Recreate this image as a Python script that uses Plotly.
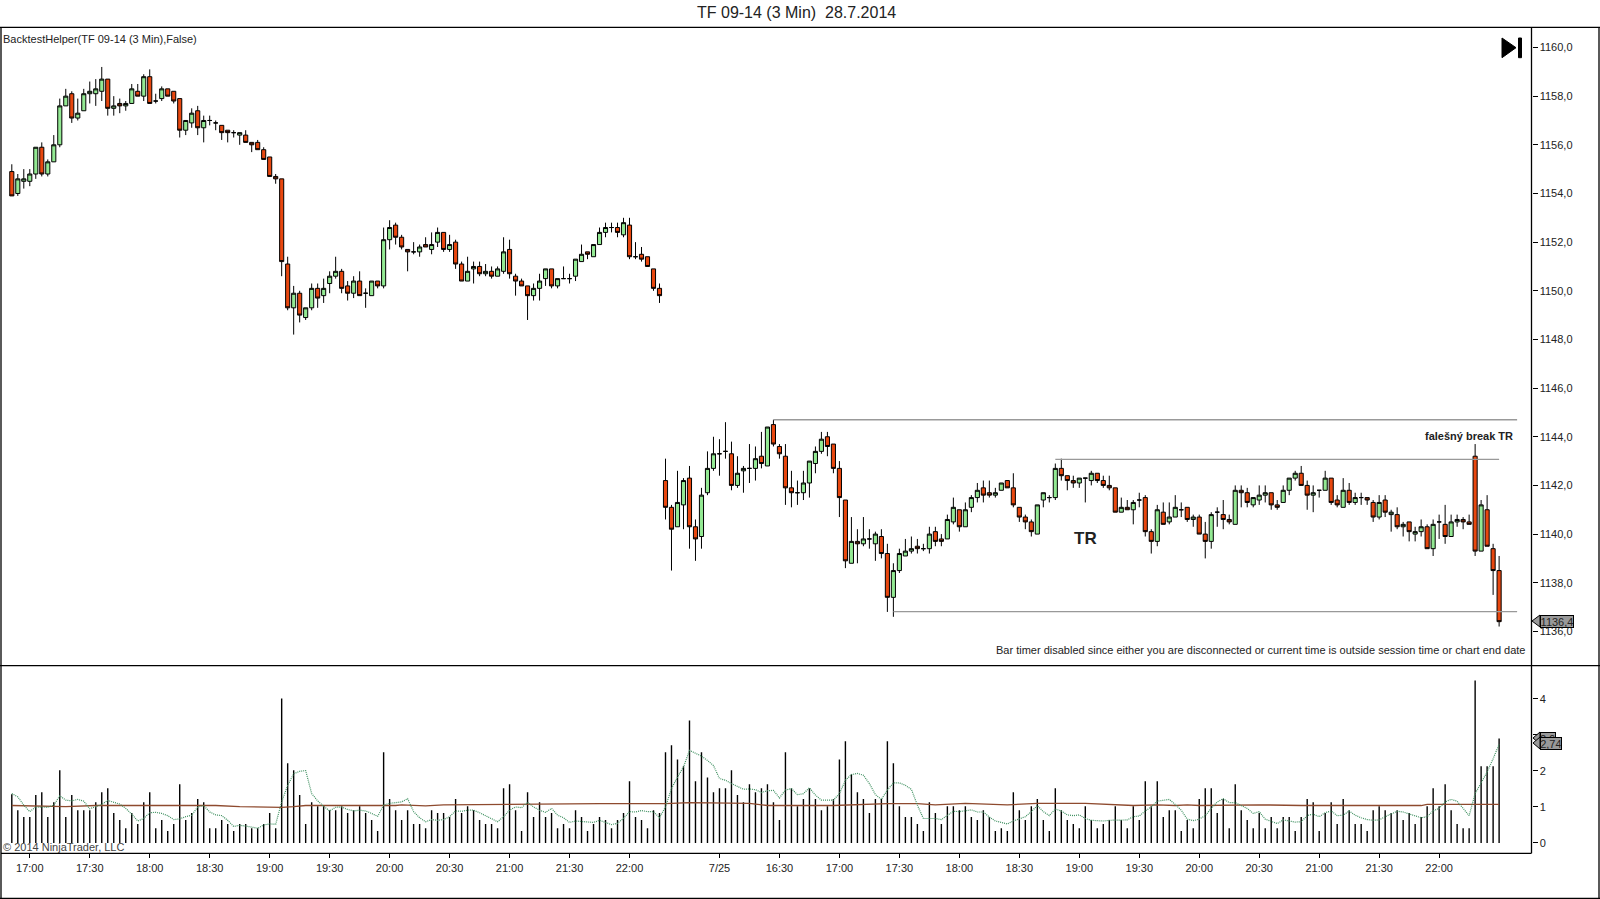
import plotly.graph_objects as go

W = 1600
H = 899

# candle values (3 min bars, two sessions side by side)
opens = [
    1154.9, 1154.0, 1154.5, 1154.5, 1154.8, 1155.9, 1154.8, 1155.3, 1156.0, 1157.6,
    1158.1, 1157.1, 1157.4, 1158.1, 1158.1, 1158.2, 1158.7, 1157.5, 1157.7, 1157.6,
    1157.7, 1158.2, 1158.0, 1158.8, 1157.8, 1157.9, 1158.3, 1158.2, 1157.9, 1156.6,
    1156.9, 1157.4, 1156.7, 1157.0, 1156.9, 1156.8, 1156.6, 1156.5, 1156.4, 1156.4,
    1156.1, 1156.1, 1155.8, 1155.5, 1154.7, 1154.6, 1151.1, 1149.3, 1149.9, 1148.9,
    1149.3, 1150.1, 1149.8, 1150.3, 1150.6,
    1150.8, 1150.2, 1149.9, 1150.4, 1149.9, 1149.8, 1150.4, 1150.2, 1152.1, 1152.7,
    1152.2, 1151.7, 1151.6, 1151.6, 1151.9, 1151.7, 1152.0, 1152.4, 1151.7, 1152.0,
    1151.1, 1150.4, 1150.9, 1151.0, 1150.7, 1150.8, 1150.6, 1150.8, 1151.7, 1150.6,
    1150.4, 1150.2, 1149.8, 1150.1, 1150.5, 1150.9, 1150.2, 1150.5, 1150.5, 1150.6,
    1151.2, 1151.6, 1151.4, 1151.9, 1152.4, 1152.6, 1152.6, 1152.3, 1152.7, 1151.4,
    1151.5, 1151.4, 1150.9, 1150.1,
    1142.2, 1141.1, 1140.3, 1141.2, 1142.3, 1140.3, 1139.9, 1141.7, 1142.7, 1143.3,
    1143.4, 1143.3, 1142.0, 1142.6, 1142.7, 1142.7, 1143.2, 1142.8, 1144.5, 1143.6,
    1143.2, 1141.9, 1141.7, 1141.7, 1142.1, 1142.9, 1143.4, 1144.0, 1143.7, 1142.7,
    1141.4, 1138.8, 1139.7, 1139.6, 1139.8, 1139.6, 1139.9, 1139.2, 1137.4, 1138.5,
    1139.1, 1139.3, 1139.5, 1139.4, 1139.4, 1140.1, 1139.8, 1139.8,
    1140.5, 1141.0, 1140.3, 1141.1, 1141.5, 1141.9, 1141.7, 1141.6, 1141.8, 1142.2,
    1141.9, 1141.1, 1140.7, 1140.5, 1140.0, 1141.4, 1141.5, 1141.5, 1142.7, 1142.4,
    1142.2, 1142.1, 1142.3, 1142.2, 1142.5, 1142.2, 1142.0, 1141.9, 1140.9, 1141.1,
    1141.0, 1141.4, 1141.5, 1140.1, 1139.7, 1140.9, 1140.5, 1140.7, 1141.0, 1141.1,
    1140.6, 1140.7, 1140.0, 1139.7, 1140.9, 1140.8, 1140.6,
    1140.4, 1141.8, 1141.7, 1141.2, 1141.4, 1141.6, 1141.7, 1141.2, 1141.3, 1141.8,
    1142.3, 1142.5, 1142.0, 1141.6, 1141.8, 1141.8, 1142.3, 1141.4, 1141.1, 1141.8,
    1141.3, 1141.5, 1141.5, 1141.3, 1140.7, 1141.4, 1140.8, 1140.8, 1140.3, 1140.5,
    1140.0, 1140.1, 1140.3, 1139.4, 1140.5, 1140.4, 1139.9, 1140.5, 1140.6, 1140.5,
    1143.2, 1139.3, 1141.0, 1139.4, 1138.5,
]
highs = [
    1155.2, 1154.8, 1155.0, 1155.0, 1155.9, 1156.1, 1155.4, 1156.4, 1157.9, 1158.3,
    1158.2, 1157.9, 1158.3, 1158.6, 1158.7, 1159.2, 1158.7, 1158.0, 1157.9, 1157.8,
    1158.5, 1158.5, 1158.9, 1159.1, 1158.1, 1158.4, 1158.3, 1158.2, 1157.9, 1157.0,
    1157.5, 1157.6, 1157.2, 1157.2, 1157.0, 1156.8, 1156.6, 1156.6, 1156.5, 1156.6,
    1156.1, 1156.2, 1155.9, 1155.5, 1154.8, 1154.6, 1151.4, 1150.2, 1150.0, 1149.3,
    1150.3, 1150.3, 1150.5, 1150.8, 1151.4,
    1150.9, 1150.4, 1150.6, 1150.8, 1150.1, 1150.4, 1150.4, 1152.6, 1152.9, 1152.8,
    1152.3, 1151.7, 1152.0, 1151.9, 1152.2, 1152.4, 1152.6, 1152.4, 1152.3, 1152.1,
    1151.2, 1151.4, 1151.2, 1151.2, 1151.1, 1151.0, 1151.0, 1152.2, 1152.1, 1150.7,
    1150.5, 1150.2, 1150.3, 1150.7, 1150.9, 1150.9, 1150.5, 1151.0, 1150.7, 1151.3,
    1151.9, 1151.6, 1151.9, 1152.6, 1152.8, 1152.8, 1152.8, 1153.0, 1153.0, 1152.0,
    1151.8, 1151.4, 1150.9, 1150.3,
    1143.1, 1141.2, 1142.6, 1142.3, 1142.8, 1140.6, 1141.9, 1143.4, 1144.0, 1143.9,
    1144.6, 1143.8, 1143.2, 1142.8, 1143.7, 1143.6, 1144.2, 1144.4, 1144.7, 1143.7,
    1143.7, 1142.6, 1142.2, 1142.6, 1143.0, 1143.6, 1144.2, 1144.2, 1143.7, 1143.0,
    1141.4, 1140.7, 1140.2, 1140.7, 1140.2, 1140.1, 1140.2, 1139.6, 1138.8, 1139.4,
    1139.8, 1139.9, 1139.8, 1139.6, 1140.3, 1140.3, 1140.0, 1140.8,
    1141.5, 1141.0, 1141.3, 1141.6, 1142.1, 1142.2, 1142.2, 1141.9, 1142.1, 1142.2,
    1142.5, 1141.1, 1140.8, 1140.6, 1141.2, 1141.7, 1141.6, 1142.9, 1143.1, 1142.4,
    1142.4, 1142.3, 1142.3, 1142.6, 1142.5, 1142.4, 1142.4, 1141.9, 1141.5, 1141.4,
    1141.4, 1141.7, 1141.6, 1140.2, 1141.2, 1141.3, 1141.3, 1141.6, 1141.3, 1141.1,
    1140.8, 1140.8, 1140.5, 1140.9, 1141.1, 1141.4, 1140.8,
    1142.0, 1142.0, 1141.9, 1141.5, 1142.0, 1142.0, 1141.7, 1141.4, 1142.0, 1142.3,
    1142.6, 1142.8, 1142.2, 1142.0, 1141.8, 1142.6, 1142.3, 1141.6, 1142.3, 1142.1,
    1141.7, 1141.7, 1141.5, 1141.4, 1141.6, 1141.6, 1141.0, 1141.1, 1140.5, 1140.5,
    1140.3, 1140.6, 1140.4, 1140.6, 1140.8, 1141.2, 1140.8, 1140.8, 1140.7, 1140.8,
    1143.7, 1141.4, 1141.6, 1139.6, 1139.1,
]
lows = [
    1153.9, 1153.9, 1154.2, 1154.3, 1154.6, 1154.7, 1154.7, 1155.3, 1155.9, 1157.6,
    1156.9, 1157.0, 1157.4, 1157.7, 1157.6, 1157.8, 1157.2, 1157.2, 1157.3, 1157.4,
    1157.7, 1158.0, 1157.8, 1157.7, 1157.7, 1157.8, 1158.0, 1157.7, 1156.3, 1156.4,
    1156.7, 1156.4, 1156.1, 1156.8, 1156.6, 1156.2, 1156.1, 1156.3, 1156.0, 1156.1,
    1155.7, 1155.8, 1155.4, 1154.7, 1154.4, 1150.6, 1149.2, 1148.2, 1148.7, 1148.8,
    1149.2, 1149.3, 1149.5, 1149.9, 1150.5,
    1149.9, 1149.6, 1149.7, 1149.8, 1149.3, 1149.8, 1150.1, 1150.1, 1151.7, 1151.9,
    1151.7, 1150.8, 1151.5, 1151.4, 1151.8, 1151.5, 1151.8, 1151.6, 1151.6, 1150.9,
    1150.4, 1150.4, 1150.3, 1150.6, 1150.6, 1150.5, 1150.6, 1150.7, 1150.5, 1149.8,
    1150.2, 1148.8, 1149.6, 1149.6, 1150.2, 1150.1, 1150.1, 1150.5, 1150.3, 1150.4,
    1151.2, 1151.3, 1151.4, 1151.9, 1152.2, 1152.4, 1152.2, 1152.2, 1151.3, 1151.3,
    1151.2, 1151.0, 1150.0, 1149.5,
    1140.6, 1138.5, 1140.3, 1140.2, 1139.4, 1138.9, 1139.4, 1141.6, 1142.6, 1142.4,
    1143.1, 1141.8, 1141.9, 1141.7, 1142.1, 1142.2, 1142.7, 1142.8, 1143.6, 1143.1,
    1141.2, 1141.1, 1141.2, 1141.4, 1141.5, 1142.5, 1143.3, 1143.2, 1142.5, 1140.7,
    1138.6, 1138.8, 1138.8, 1139.5, 1139.4, 1138.9, 1139.0, 1136.8, 1136.6, 1138.4,
    1139.1, 1139.2, 1139.2, 1139.3, 1139.2, 1139.5, 1139.5, 1139.8,
    1140.4, 1140.1, 1140.3, 1140.9, 1141.3, 1141.3, 1141.5, 1141.5, 1141.8, 1141.9,
    1141.1, 1140.5, 1140.2, 1139.9, 1140.0, 1141.1, 1141.3, 1141.4, 1142.2, 1141.8,
    1141.9, 1141.9, 1141.3, 1142.0, 1142.1, 1141.9, 1141.8, 1140.9, 1140.9, 1141.0,
    1140.4, 1141.1, 1139.9, 1139.2, 1139.5, 1140.4, 1140.4, 1140.7, 1140.7, 1140.5,
    1140.3, 1140.0, 1139.0, 1139.4, 1140.3, 1140.2, 1140.4,
    1140.4, 1141.1, 1141.1, 1141.1, 1141.2, 1141.3, 1141.0, 1141.0, 1141.3, 1141.6,
    1142.2, 1142.0, 1141.0, 1140.9, 1141.5, 1141.8, 1141.2, 1141.1, 1141.1, 1141.2,
    1141.2, 1141.2, 1141.2, 1140.5, 1140.6, 1140.7, 1140.1, 1140.2, 1139.9, 1139.7,
    1139.7, 1139.9, 1139.4, 1139.1, 1139.8, 1139.6, 1139.9, 1140.3, 1140.2, 1140.4,
    1139.1, 1139.3, 1139.5, 1137.5, 1136.2,
]
closes = [
    1153.9, 1154.6, 1154.6, 1154.8, 1155.9, 1154.8, 1155.3, 1156.0, 1157.6, 1158.0,
    1157.1, 1157.3, 1158.1, 1158.2, 1158.3, 1158.7, 1157.5, 1157.6, 1157.6, 1157.7,
    1158.3, 1158.0, 1158.8, 1157.7, 1157.8, 1158.3, 1158.0, 1157.8, 1156.6, 1157.0,
    1157.3, 1156.7, 1157.0, 1157.0, 1156.9, 1156.5, 1156.5, 1156.5, 1156.5, 1156.1,
    1156.0, 1155.8, 1155.4, 1154.7, 1154.6, 1151.2, 1149.3, 1149.9, 1149.0, 1149.3,
    1150.1, 1149.7, 1150.1, 1150.6, 1150.8,
    1150.1, 1149.9, 1150.4, 1149.8, 1149.9, 1150.4, 1150.2, 1152.1, 1152.6, 1152.2,
    1151.8, 1151.6, 1151.6, 1151.8, 1151.8, 1151.9, 1152.4, 1151.7, 1151.9, 1151.1,
    1150.4, 1150.8, 1151.0, 1150.7, 1150.8, 1150.6, 1150.9, 1151.6, 1150.7, 1150.4,
    1150.2, 1149.8, 1150.1, 1150.4, 1150.9, 1150.2, 1150.5, 1150.5, 1150.5, 1151.3,
    1151.5, 1151.5, 1151.9, 1152.4, 1152.6, 1152.6, 1152.4, 1152.8, 1151.4, 1151.4,
    1151.3, 1151.0, 1150.1, 1149.8,
    1141.1, 1140.2, 1141.3, 1142.2, 1140.3, 1139.8, 1141.6, 1142.7, 1143.3, 1143.3,
    1143.4, 1142.0, 1142.5, 1142.7, 1142.7, 1143.1, 1142.9, 1144.4, 1143.7, 1143.3,
    1141.9, 1141.7, 1141.7, 1142.1, 1143.0, 1143.4, 1143.9, 1143.6, 1142.7, 1141.5,
    1138.9, 1139.7, 1139.6, 1139.8, 1139.8, 1140.0, 1139.2, 1137.4, 1138.5, 1139.2,
    1139.3, 1139.4, 1139.4, 1139.4, 1140.0, 1139.7, 1139.7, 1140.6,
    1141.1, 1140.3, 1141.0, 1141.5, 1141.8, 1141.6, 1141.6, 1141.7, 1142.1, 1141.9,
    1141.2, 1140.7, 1140.5, 1140.1, 1141.2, 1141.7, 1141.5, 1142.7, 1142.4, 1142.2,
    1142.1, 1142.3, 1142.3, 1142.5, 1142.2, 1142.0, 1141.9, 1140.9, 1141.1, 1141.0,
    1141.3, 1141.4, 1140.1, 1139.7, 1141.0, 1140.4, 1140.7, 1141.1, 1141.0, 1140.6,
    1140.7, 1140.0, 1139.7, 1140.8, 1140.9, 1140.6, 1140.5,
    1141.8, 1141.7, 1141.3, 1141.5, 1141.6, 1141.7, 1141.2, 1141.1, 1141.8, 1142.3,
    1142.5, 1142.0, 1141.6, 1141.7, 1141.8, 1142.3, 1141.3, 1141.2, 1141.8, 1141.3,
    1141.5, 1141.5, 1141.4, 1140.7, 1141.3, 1140.9, 1140.9, 1140.3, 1140.4, 1140.1,
    1140.1, 1140.3, 1139.4, 1140.4, 1140.5, 1139.9, 1140.5, 1140.6, 1140.5, 1140.4,
    1139.3, 1141.2, 1139.5, 1138.5, 1136.4,
]

# lower panel
vol_ratio = [
    1.35, .91, .72, .72, 1.33, 1.41, .72, 1.13, 2.02, .72,
    1.33, .91, .91, .91, 1.13, 1.41, 1.52, .83, .64, .41,
    .83, .53, 1.13, 1.41, .41, .64, .33, .53, 1.63, .64,
    .83, 1.22, 1.13, .41, .41, .64, .53, .33, .53, .53,
    .41, .41, .53, .83, .41, 4.01, 2.21, 2.02, 1.33, .53,
    1.13, 1.02, 1.02, .91, .91, 1.02, .83, .91, 1.02, .83,
    .64, .33, 2.52, 1.22, .91, .64, .91, .53, .53, .41,
    .91, .83, .83, .72, 1.22, .83, 1.02, .91, .64, .53,
    .53, .41, 1.52, 1.63, .91, .33, 1.41, .72, 1.13, .72,
    .83, .41, .53, .41, .91, .72, .33, .53, .72, .64,
    .41, .64, .83, 1.71, .72, .64, .41, .91, .83, 2.52,
    2.71, 2.32, 2.13, 3.40, 1.71, 2.52, 1.82, 1.41, 1.52, 1.52,
    2.02, 1.33, 1.13, 1.63, 1.41, 1.52, 1.63, 1.13, .64, 2.52,
    1.52, 1.02, 1.22, 1.52, 1.22, .91, 1.02, 1.22, 2.32, 2.82,
    1.91, 1.41, 1.22, .83, 1.22, 1.22, 2.82, 2.21, 1.02, .72,
    .72, .53, .33, 1.13, .83, .53, 1.02, 1.02, .91, 1.02,
    .72, .64, .91, .72, .33, .41, .33, 1.41, .91, .64,
    1.02, 1.22, .64, .33, 1.52, .91, .64, .53, .41, 1.02,
    .64, .41, .53, .64, 1.02, .64, .41, 1.02, .64, 1.71,
    1.02, 1.71, .72, .91, .91, .33, .64, .41, 1.22, 1.52,
    1.52, .83, 1.22, .41, 1.63, .91, .64, .41, .83, .41,
    .72, .41, .72, .72, .33, .72, 1.22, 1.13, .33, .83,
    1.13, .53, 1.22, .91, .53, .53, .33, .91, 1.02, .91,
    .83, .91, .64, .83, .53, .72, 1.02, 1.52, 1.02, 1.63,
    .91, .53, .41, .41, 4.51, 2.13, 2.13, 2.13, 2.90,
]
fast_avg = [
    1.37, 1.28, 1.05, .87, 1.00, .99, .99, 1.05, 1.31, 1.19,
    1.17, 1.21, 1.16, .95, 1.02, 1.07, 1.18, 1.14, 1.08, .96,
    .80, .61, .68, .84, .85, .82, .76, .65, .67, .73,
    .77, 1.00, 1.04, .86, .78, .76, .63, .46, .49, .47,
    .43, .41, .50, .53, .52, 1.14, 1.60, 1.92, 1.99, 2.01,
    1.37, 1.17, 1.02, .89, .99, 1.00, .93, .89, .91, .89,
    .82, .74, 1.05, 1.10, 1.12,
    1.14, 1.23, .87, .70, .59, .65, .63, .65, .73, .89,
    .88, .91, .91, .84, .76, .68, .59, .73, .91, 1.00,
    .98, 1.13, 1.00, .91, .85, .96, .77, .70, .57, .61,
    .59, .57, .57, .63, .57, .51, .55, .68, .87, .86,
    .90, .87, .87, .70, 1.00, 1.51, 1.83, 2.11, 2.57, 2.48,
    2.41, 2.29, 2.15, 1.79, 1.74, 1.65, 1.56, 1.49, 1.50, 1.48,
    1.40, 1.45, 1.46, 1.25, 1.47, 1.51, 1.34,
    1.37, 1.53, 1.33, 1.19, 1.18, 1.19, 1.37, 1.74, 1.90, 1.93,
    1.88, 1.65, 1.34, 1.21, 1.47, 1.67, 1.67, 1.60, 1.49, 1.05,
    .68, .68, .68, .65, .77, .88, .87, .90, .92, .86,
    .86, .72, .61, .57, .53, .61, .66, .73, .87, 1.04,
    .87, .76, .94, .89, .78, .76, .78, .68, .63, .61,
    .61, .63, .63, .62, .64, .73, .75, .89, 1.00, 1.16,
    1.19, 1.21, 1.07, .91, .66, .62, .66,
    .76, .96, 1.14, 1.23, 1.12, 1.12, 1.03, .96, .82, .87,
    .66, .61, .54, .64, .61, .58, .59, .76, .80, .73,
    .84, .89, .76, .77, .89, .77, .70, .65, .63, .64,
    .73, .81, .88, .86, .81, .76, .70, .73, .89, .96,
    1.14, 1.21, 1.16, .96, .76, 1.37, 1.68, 1.97, 2.34, 2.74,
]
slow_idx = [0, 9, 14, 34, 38, 43, 45, 47, 49, 64, 65, 69, 72, 98, 109, 113, 115, 118, 123, 126,
            137, 146, 151, 154, 159, 166, 171, 179, 183, 187, 191, 194, 196, 198, 208, 215, 235, 236, 248]
slow_avg = [1.04, 1.01, 1.04, 1.04, 1.01, .99, .99, 1.01, 1.04, 1.04, 1.06, 1.03, 1.06, 1.09, 1.09, 1.12, 1.12, 1.10, 1.10, 1.04,
            1.04, 1.09, 1.09, 1.06, 1.10, 1.06, 1.10, 1.10, 1.06, 1.04, 1.06, 1.04, 1.06, 1.04, 1.06, 1.04, 1.04, 1.07, 1.07]

tick_idx = [3, 13, 23, 33, 43, 53, 63, 73, 83, 93, 103, 118, 128, 138, 148, 158, 168, 178, 188, 198, 208, 218, 228, 238]
tick_txt = ["17:00", "17:30", "18:00", "18:30", "19:00", "19:30", "20:00", "20:30", "21:00", "21:30", "22:00",
            "7/25", "16:30", "17:00", "17:30", "18:00", "18:30", "19:00", "19:30", "20:00", "20:30", "21:00", "21:30", "22:00"]

bars = list(range(len(closes)))
assert len(opens) == len(highs) == len(lows) == len(closes) == len(vol_ratio) == len(fast_avg) == 249
assert len(slow_idx) == len(slow_avg)

FONT = "Liberation Sans"
INK = "#222222"


def fx(px):
    return px / W


def fy(px):
    return 1 - px / H


def frame_line(x0, y0, x1, y1):
    return dict(type="line", xref="paper", yref="paper", x0=fx(x0), y0=fy(y0), x1=fx(x1), y1=fy(y1),
                line=dict(color="black", width=1.3), layer="above")


def poly(points, fill):
    path = "M " + " L ".join(f"{fx(a)} {fy(b)}" for a, b in points) + " Z"
    return dict(type="path", xref="paper", yref="paper", path=path, fillcolor=fill,
                line=dict(color="black", width=1), layer="above")


def note(px, py, text, size=11, anchor="left", bold=False, color=INK):
    return dict(xref="paper", yref="paper", x=fx(px), y=fy(py), text=f"<b>{text}</b>" if bold else text,
                showarrow=False, xanchor=anchor, yanchor="middle", font=dict(family=FONT, size=size, color=color))


def flag(px_left, px_right, py_mid, text):
    return dict(xref="paper", yref="paper", x=fx(px_right), y=fy(py_mid), text=text, showarrow=False,
                xanchor="right", yanchor="middle", width=px_right - px_left - 2, height=11, align="center",
                bgcolor="#999999", bordercolor="black", borderwidth=1, borderpad=0,
                font=dict(family=FONT, size=11, color=INK))


# thin volume sticks, one line segment per bar
stick_x = []
stick_y = []
for i, v in zip(bars, vol_ratio):
    stick_x += [i, i, None]
    stick_y += [0, v, None]

fig = go.Figure()
fig.add_trace(go.Candlestick(
    x=bars, open=opens, high=highs, low=lows, close=closes,
    xaxis="x", yaxis="y", whiskerwidth=0, showlegend=False,
    increasing=dict(fillcolor="#93E993", line=dict(color="black", width=1)),
    decreasing=dict(fillcolor="#E8470F", line=dict(color="black", width=1)),
))
fig.add_trace(go.Scatter(x=stick_x, y=stick_y, mode="lines", line=dict(color="black", width=1.4),
                         xaxis="x2", yaxis="y2", showlegend=False))
fig.add_trace(go.Scatter(x=slow_idx, y=slow_avg, mode="lines", line=dict(color="#8E4A2E", width=1.3),
                         xaxis="x2", yaxis="y2", showlegend=False))
fig.add_trace(go.Scatter(x=bars, y=fast_avg, mode="lines", line=dict(color="#3F9060", width=1.2, dash="1px,1px"),
                         xaxis="x2", yaxis="y2", showlegend=False))

x_range = [-1.8, 253.4]
x_dom = [fx(1), fx(1531.5)]
tick_font = dict(family=FONT, size=11, color=INK)

fig.update_layout(
    width=W, height=H, margin=dict(l=0, r=0, t=0, b=0),
    paper_bgcolor="white", plot_bgcolor="white",
    separators=", ", boxgap=0.02,
    xaxis=dict(domain=x_dom, range=x_range, anchor="y", showticklabels=False, ticks="", showgrid=False,
               zeroline=False, rangeslider=dict(visible=False)),
    yaxis=dict(domain=[fy(665.7), fy(27.3)], range=[1134.59, 1160.83], side="right", anchor="x",
               tickmode="array", tickvals=list(range(1136, 1162, 2)), tickformat=".1f", ticks="outside",
               ticklen=5, tickcolor="black", showline=False, showgrid=False, zeroline=False, tickfont=tick_font),
    xaxis2=dict(domain=x_dom, range=x_range, anchor="y2", tickmode="array", tickvals=tick_idx, ticktext=tick_txt,
                ticks="outside", ticklen=4, tickcolor="black", showgrid=False, zeroline=False, tickfont=tick_font),
    yaxis2=dict(domain=[fy(853.3), fy(665.7)], range=[-0.286, 4.92], side="right", anchor="x2",
                tickmode="array", tickvals=[0, 1, 2, 3, 4], ticktext=["0", "1", "2", "", "4"], ticks="outside",
                ticklen=5, tickcolor="black", showline=False, showgrid=False, zeroline=False, tickfont=tick_font),
    shapes=[
        # range lines drawn by hand on the chart
        dict(type="line", xref="x", yref="y", x0=127, x1=251, y0=1144.7, y1=1144.7,
             line=dict(color="#999999", width=1.3)),
        dict(type="line", xref="x", yref="y", x0=174, x1=248, y0=1143.07, y1=1143.07,
             line=dict(color="#999999", width=1.3)),
        dict(type="line", xref="x", yref="y", x0=147, x1=251, y0=1136.81, y1=1136.81,
             line=dict(color="#999999", width=1.3)),
        # window frame
        frame_line(0, 27.3, W, 27.3),
        frame_line(0, 665.7, W, 665.7),
        frame_line(1, 853.3, 1531.5, 853.3),
        frame_line(0, 898.3, W, 898.3),
        frame_line(1, 27.3, 1, 898.3),
        frame_line(1531.5, 27.3, 1531.5, 853.3),
        frame_line(1599, 27.3, 1599, 898.3),
        # skip-to-end icon
        poly([(1502, 38), (1516, 47.7), (1502, 57.7)], "black"),
        poly([(1518.5, 38), (1521.5, 38), (1521.5, 57.7), (1518.5, 57.7)], "black"),
        # price flag tips
        poly([(1532, 621), (1540, 615), (1540, 627)], "#999999"),
        poly([(1533, 738), (1540, 732), (1540, 744)], "#999999"),
        poly([(1533, 743), (1540, 737), (1540, 749)], "#999999"),
    ],
    annotations=[
        note(796, 13, "TF 09-14 (3 Min)&nbsp;&nbsp;28.7.2014", size=16, anchor="center"),
        note(1, 39, "BacktestHelper(TF 09-14 (3 Min),False)", size=11),
        note(1515, 436, "falešný break TR", size=11, anchor="right", bold=True),
        note(1085.5, 538, "TR", size=17, anchor="center", bold=True),
        note(1528, 650, "Bar timer disabled since either you are disconnected or current time is outside session time or chart end date",
             size=11, anchor="right"),
        note(1, 847, "© 2014 NinjaTrader, LLC", size=11, color="#444444"),
        flag(1540, 1574, 621, "1136,4"),
        flag(1540, 1555.5, 738, "2,9"),
        flag(1540, 1561.7, 743, "2,74"),
    ],
)

fig.write_html("out.html", config=dict(displayModeBar=False),
               post_script="document.body.style.margin='0';document.body.style.overflow='hidden';")
